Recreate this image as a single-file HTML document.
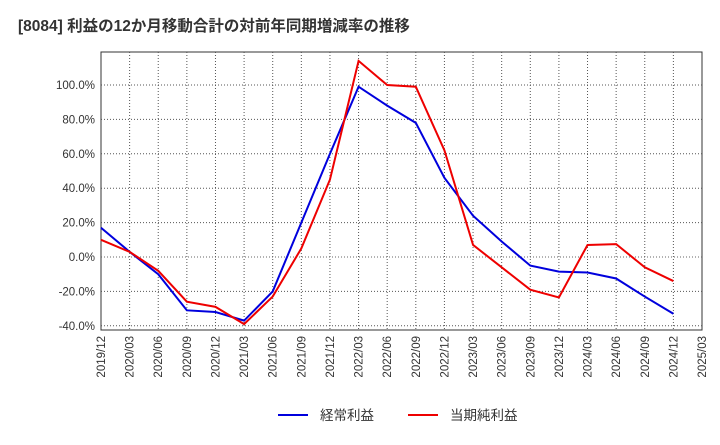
<!DOCTYPE html>
<html><head><meta charset="utf-8"><style>
body{margin:0;background:#fff;font-family:"Liberation Sans","Noto Sans CJK JP",sans-serif}
</style></head><body>
<svg id="chart" width="720" height="440" xmlns="http://www.w3.org/2000/svg">
<text x="18" y="31" font-size="15.5" font-weight="bold" fill="#333" font-family="Liberation Sans, Noto Sans CJK JP, sans-serif">[8084]  利益の12か月移動合計の対前年同期増減率の推移</text>
<rect x="101" y="52" width="601" height="278" fill="#fff" stroke="#333"/>
<g id="grid"></g><g id="axes"></g><g id="series"></g>
<g>
<line x1="278" y1="415" x2="308" y2="415" stroke="#0000dd" stroke-width="2"/>
<text x="320" y="420" font-size="13.5" fill="#333">経常利益</text>
<line x1="408" y1="415" x2="438" y2="415" stroke="#ee0000" stroke-width="2"/>
<text x="450" y="420" font-size="13.5" fill="#333">当期純利益</text>
</g>
</svg>
<script>
const categories=["2019/12","2020/03","2020/06","2020/09","2020/12","2021/03","2021/06","2021/09","2021/12","2022/03","2022/06","2022/09","2022/12","2023/03","2023/06","2023/09","2023/12","2024/03","2024/06","2024/09","2024/12","2025/03"];
const keijoValues=[17,3,-10,-31,-32,-37,-20,20,60,99,88,78,46,24,9,-5,-8.5,-9,-12.5,-23,-33];
const junValues=[10,3,-8,-26,-29,-39,-23,5,45,114,100,99,62,7,-6,-19,-23.5,7,7.5,-6,-14];
const yTicks=[-40,-20,0,20,40,60,80,100];
const NS="http://www.w3.org/2000/svg";
const L=101,R=702,T=52,B=330;
function x(i){return L+(R-L)*i/(categories.length-1);}
function y(v){return 257-v*1.72;}
function mk(tag,attrs,parent){const e=document.createElementNS(NS,tag);for(const k in attrs)e.setAttribute(k,attrs[k]);parent.appendChild(e);return e;}
const grid=document.getElementById('grid'),axes=document.getElementById('axes'),series=document.getElementById('series');
categories.forEach((c,i)=>{
  const gx=x(i);
  if(i>0&&i<categories.length-1){const l=mk('line',{x1:gx,x2:gx,y1:T,y2:B,stroke:'#555','stroke-dasharray':'1,2'},grid);
  
  }
  const t=mk('text',{x:0,y:0,'font-size':11.5,fill:'#333','text-anchor':'end',transform:`translate(${gx+4},${B+6}) rotate(-90)`},axes);
  t.textContent=c;
  
  
});
yTicks.forEach(v=>{
  const gy=y(v);
  const l=mk('line',{x1:L,x2:R,y1:gy,y2:gy,stroke:v===0?'#666':'#555','stroke-dasharray':'1,2'},grid);
  
  
  const t=mk('text',{x:L-6,y:gy+4,'font-size':11.5,fill:'#333','text-anchor':'end'},axes);
  t.textContent=v.toFixed(1)+'%';
  
  
});
function line(vals,color,name){
  const p=mk('polyline',{points:vals.map((v,i)=>x(i)+','+y(v)).join(' '),fill:'none',stroke:color,'stroke-width':2},series);
  
  
}
line(keijoValues,'#0000dd','operating-profit-line');
line(junValues,'#ee0000','net-profit-line');
</script>
</body></html>
